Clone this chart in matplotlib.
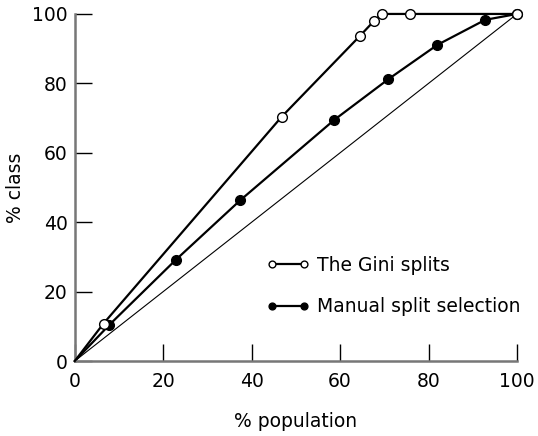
import matplotlib
matplotlib.use("Agg")
import matplotlib.pyplot as plt

plt.rcParams['font.family'] = ['DejaVu Sans']

# Gini splits (open circles)
gini_x = [0, 6.5, 46.8, 64.5, 67.6, 69.4, 75.8, 100]
gini_y = [0, 10.8, 70.4, 93.7, 97.9, 100, 100, 100]
gini_mark = [False, True, True, True, True, True, True, True]

# manual split selection (filled circles)
man_x = [0, 7.8, 22.8, 37.4, 58.7, 70.9, 82.0, 92.8, 100]
man_y = [0, 10.4, 29.1, 46.3, 69.5, 81.2, 91.1, 98.3, 100]
man_mark = [False, True, True, True, True, True, True, True, True]

ticks = [0, 20, 40, 60, 80, 100]

fig = plt.figure(figsize=(5.38, 4.36), dpi=100)
ax = fig.add_axes([0.139, 0.172, 0.822, 0.796])

ax.plot([0, 100], [0, 100], color='black', lw=0.8, zorder=1)
ax.plot(man_x, man_y, color='black', lw=1.6, marker='o', ms=7,
        mfc='black', mec='black', markevery=man_mark, clip_on=False,
        label='Manual split selection', zorder=2)
ax.plot(gini_x, gini_y, color='black', lw=1.6, marker='o', ms=7,
        mfc='white', mec='black', markevery=gini_mark, clip_on=False,
        label='The Gini splits', zorder=3)

ax.set_xlim(0, 100)
ax.set_ylim(0, 100)
ax.set_xticks(ticks)
ax.set_yticks(ticks)
ax.tick_params(direction='in', length=12, width=1, labelsize=13.5)
ax.tick_params(axis='x', pad=8)
ax.tick_params(axis='y', pad=5)
for s in ['top', 'right']:
    ax.spines[s].set_visible(False)
for s in ['left', 'bottom']:
    ax.spines[s].set_color('#777777')
    ax.spines[s].set_linewidth(1.8)

ax.set_xlabel('% population', fontsize=13.5, labelpad=15)
ax.set_ylabel('% class', fontsize=13.5, labelpad=5)

h, l = ax.get_legend_handles_labels()
ax.legend(h[::-1], l[::-1], loc='lower left', bbox_to_anchor=(0.395, 0.08),
          frameon=False, fontsize=13.5, numpoints=2, markerscale=0.7,
          handlelength=2.3, handletextpad=0.4, labelspacing=1.2)

fig.savefig('out.png', dpi=100)
